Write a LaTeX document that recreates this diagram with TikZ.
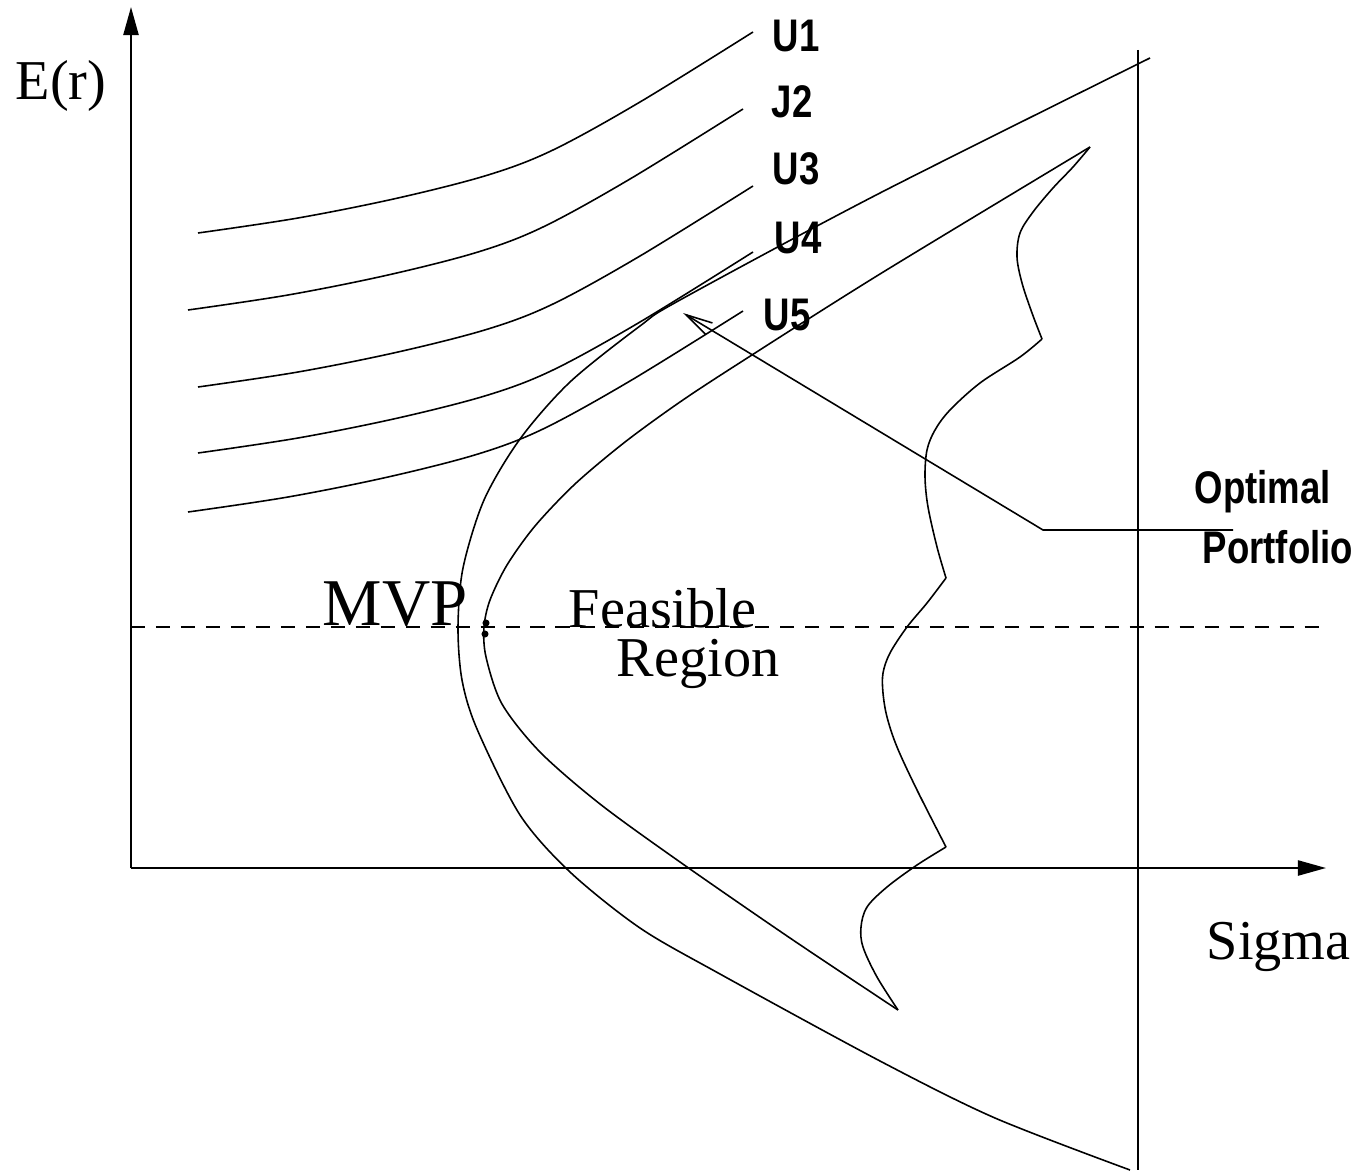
\documentclass[tikz,border=0pt]{standalone}
\usepackage{fontspec}
\setmainfont{Liberation Serif}
\newfontfamily\labelfont[FakeStretch=0.8]{Liberation Sans}
\usetikzlibrary{arrows.meta}

\begin{document}
\begin{tikzpicture}[x=0.01cm, y=-0.01cm,
  line width=0.45pt, >={Triangle[length=8pt,width=4.3pt]},
  axis/.style={line width=0.6pt},
  ulab/.style={font=\labelfont\bfseries\fontsize{13}{15}\selectfont, inner sep=0pt, anchor=base west},
  rlab/.style={font=\fontsize{16}{19}\selectfont, inner sep=0pt, anchor=base west},
  ptr/.style={-{Straight Barb[length=7.7pt,width=3.8pt]}}]
  \useasboundingbox (0,0) rectangle (1358,1170);
  % axes
  \coordinate (orig) at (131,868);
  \coordinate (ytip) at (131,7);
  \coordinate (xtip) at (1326,868);
  \draw[axis,->] (orig) -- (ytip);
  \draw[axis,->] (orig) -- (xtip);
  \draw (1138,50) -- (1138,1170);
  \draw[dash pattern=on 4pt off 3.1pt] (131,627) -- (1325,627);
  % indifference curves
  \foreach \ux/\uy in {198/233, 188/310, 198/387, 198/453, 188/512}
    \draw[shift={(\ux,\uy)}] plot[smooth, tension=0.55] coordinates
      {(0,0) (100,-15) (200,-35) (290,-58) (355,-83) (442,-131) (555,-201)};
  % efficient frontier
  \draw plot[smooth, tension=0.5] coordinates
    {(1150,58) (880,193) (680,300) (640,326) (570,382) (520,439) (484,500)
     (463,568) (458,627) (462,680) (477,729) (520,815) (570,872) (640,928)
     (720,974) (880,1061) (995,1118) (1130,1170)};
  % feasible region
  \draw plot[smooth, tension=0.5] coordinates
    {(1090,147) (880,274) (741,362) (680,402) (625,442) (575,484) (535,526)
     (507,565) (490,600) (484,627) (486,657) (502,704) (540,752) (600,804)
     (680,862) (790,938) (898,1010)};
  \draw plot[smooth, tension=0.55] coordinates
    {(1090,147) (1073,167) (1053,188) (1033,212) (1020,233) (1017,257)
     (1022,283) (1032,313) (1042,339)}
    plot[smooth, tension=0.55] coordinates
    {(1042,339) (1020,357) (980,383) (950,410) (935,430) (927,450) (925,477)
     (928,507) (937,547) (946,578)}
    plot[smooth, tension=0.55] coordinates
    {(946,578) (927,603) (907,627) (890,653) (883,673) (883,693) (887,717)
     (897,747) (917,790) (946,847)}
    plot[smooth, tension=0.55] coordinates
    {(946,847) (917,865) (887,887) (867,907) (861,927) (863,947) (877,977)
     (898,1010)};
  % minimum variance point
  \fill (486,623) circle (1pt);
  \fill (485,634) circle (1pt);
  % pointer to the optimal portfolio
  \coordinate (tailend) at (1233,530);
  \coordinate (knee) at (1043,530);
  \coordinate (optpt) at (683,313);
  \draw[ptr] (tailend) -- (knee) -- (optpt);
  % labels
  \node[rlab] (er) at (15,100) {E(r)};
  \node[rlab] (sig) at (1206,959) {Sigma};
  \node[rlab, font=\fontsize{19}{22}\selectfont] (mvp) at (322,625) {MVP};
  \node[rlab] (feas) at (568,627) {Feasible};
  \node[rlab] (reg) at (616,676) {Region};
  \node[ulab] (u1) at (772,52) {U1};
  \node[ulab] (u2) at (771,118) {J2};
  \node[ulab] (u3) at (772,185) {U3};
  \node[ulab] (u4) at (774,253) {U4};
  \node[ulab] (u5) at (763,330) {U5};
  \node[ulab] (opt) at (1194,503) {Optimal};
  \node[ulab] (port) at (1202,563) {Portfolio};
\end{tikzpicture}
\end{document}
